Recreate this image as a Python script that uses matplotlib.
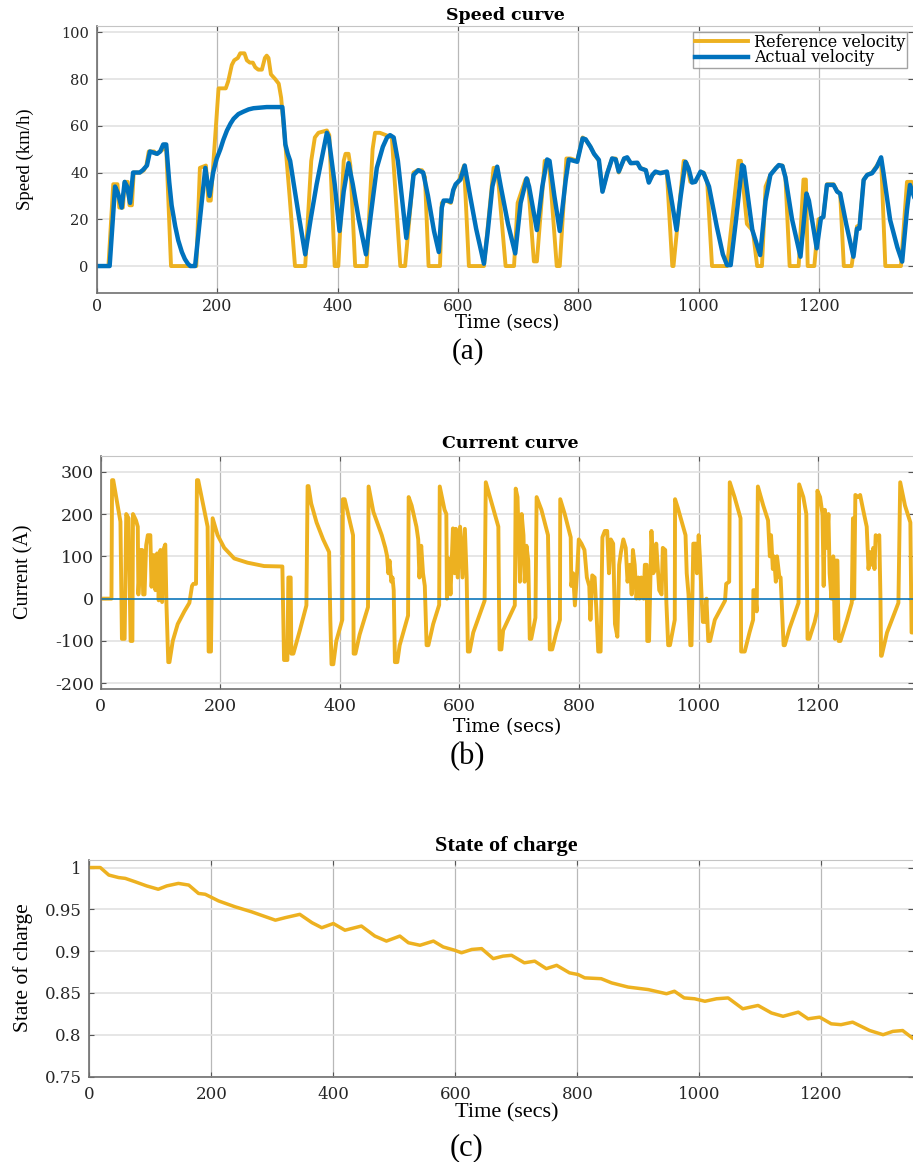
import matplotlib
matplotlib.use('Agg')
import matplotlib.pyplot as plt

# plain hyphen for negative ticks, like the original
plt.rcParams['axes.unicode_minus'] = False

# figure size in pixels (dpi 100)
W, H = 913, 1162

ORANGE = '#EDB120'
BLUE = '#0072BD'

# ---- (a) speed curve: reference and actual velocity (km/h) ----
ref_t = [0, 19, 27, 34, 37, 43, 46, 51, 54, 58, 61, 72, 78, 82, 86, 95, 98, 105, 110, 113,
         115, 123, 165, 171, 181, 185, 189, 202, 214, 218, 224, 228, 234, 238, 245, 249, 254,
         259, 263, 268, 274, 279, 282, 285, 289, 296, 302, 306, 313, 320, 329, 346, 356, 362,
         368, 382, 386, 395, 401, 410, 413, 418, 421, 429, 448, 458, 462, 470, 480, 490, 504,
         512, 526, 533, 540, 545, 551, 570, 573, 580, 588, 593, 602, 610, 618, 643, 659, 665,
         679, 693, 699, 712, 716, 726, 731, 744, 751, 764, 769, 780, 787, 798, 807, 812, 820,
         826, 834, 840, 848, 856, 862, 867, 876, 881, 887, 898, 903, 912, 917, 923, 928, 936,
         947, 956, 958, 975, 980, 986, 994, 1003, 1008, 1014, 1022, 1047, 1066, 1070, 1080,
         1090, 1097, 1105, 1111, 1119, 1128, 1133, 1139, 1144, 1151, 1166, 1174, 1178, 1181,
         1192, 1199, 1207, 1213, 1224, 1230, 1235, 1241, 1254, 1263, 1267, 1274, 1280, 1288,
         1296, 1303, 1310, 1336, 1346, 1354, 1360]
ref_v = [0, 0, 35, 35, 25, 25, 36, 36, 26, 26, 40, 40, 41, 43, 49, 49, 48, 49, 50, 52,
         51, 0, 0, 42, 43, 28, 28, 76, 76, 79, 86, 88, 89, 91, 91, 88, 87,
         87, 85, 84, 84, 89, 90, 89, 82, 80, 78, 72, 52, 30, 0, 0, 45, 55,
         57, 58, 56, 0, 0, 45, 48, 48, 43, 0, 0, 50, 57, 57, 56, 55, 0,
         0, 40, 41, 41, 38, 0, 0, 27, 28, 27, 33, 37, 43, 0, 0, 42, 42,
         0, 0, 27, 37, 37, 2, 2, 45, 45, 0, 0, 46, 46, 45, 55, 54, 51,
         48, 45, 32, 40, 46, 46, 40, 46, 46, 44, 44, 42, 41, 36, 39, 40, 40,
         40, 0, 0, 45, 44, 36, 36, 40, 40, 36, 0, 0, 45, 45, 18,
         15, 0, 0, 34, 39, 42, 43, 43, 38, 0, 0, 37, 37, 0,
         0, 20, 21, 35, 35, 32, 31, 0, 0, 17, 17, 37, 39, 40,
         43, 46, 0, 0, 36, 36, 28]

act_t = [0, 21, 30, 35, 41, 46, 50, 55, 60, 71, 76, 83, 88, 100, 105, 110, 115, 120, 124,
         130, 135, 141, 146, 151, 155, 163, 171, 180, 187, 193, 199, 205, 210, 216, 222, 227,
         235, 243, 252, 260, 282, 308, 310, 313, 317, 321, 327, 335, 346, 355, 365, 375, 382,
         385, 395, 403, 410, 418, 425, 435, 447, 455, 465, 475, 482, 487, 493, 500, 514, 520,
         526, 534, 542, 550, 560, 568, 573, 576, 583, 588, 592, 596, 604, 611, 620, 630, 643,
         649, 657, 665, 671, 683, 695, 704, 714, 718, 731, 740, 748, 752, 760, 769, 779, 784,
         798, 807, 812, 820, 826, 834, 840, 848, 856, 862, 867, 876, 881, 887, 898, 903, 912,
         917, 923, 928, 936, 947, 955, 963, 970, 978, 983, 989, 994, 1003, 1008, 1017, 1030,
         1040, 1047, 1053, 1062, 1072, 1075, 1089, 1102, 1111, 1119, 1128, 1133, 1139, 1144,
         1155, 1169, 1179, 1183, 1196, 1203, 1207, 1213, 1224, 1230, 1235, 1245, 1257, 1263,
         1267, 1274, 1280, 1288, 1296, 1303, 1307, 1318, 1330, 1338, 1346, 1351, 1360]
act_v = [0, 0, 34, 31, 25, 36, 34, 27, 40, 40, 41, 43, 49, 48, 49, 52, 52, 36, 26,
         17, 11, 6, 3, 1, 0, 0, 20, 42, 30, 40, 46, 50, 54, 58, 61, 63,
         65, 66, 67, 67.5, 68, 68, 62, 52, 48, 45, 35, 22, 5, 20, 35, 48, 57,
         55, 35, 15, 32, 44, 35, 20, 5, 22, 42, 51, 55, 56, 55, 45, 12, 25,
         39, 41, 40, 30, 15, 6, 25, 28, 28, 27.5, 32.5, 35, 37, 43, 30, 16, 1,
         14, 34, 42.5, 34, 18, 5.4, 27, 37.5, 34, 15.4, 34, 45.6, 45, 30, 15, 37, 45.6,
         44.6, 54.6, 54.2, 51, 48, 45.4, 31.8, 39.7, 46, 45.6, 40.4, 46, 46.5, 44, 44.2, 41.8, 41,
         35.7, 39, 40.4, 39.7, 40.4, 28, 15.4, 30, 44.6, 41.8, 35.7, 36, 40.4, 39.7, 34, 16.8,
         5, 0.4, 0.4, 20, 43.2, 42.5, 15.4, 4.7, 28, 39, 41.8, 43.2, 42.8, 38,
         20, 4, 31, 28, 7.6, 20.4, 21, 34.7, 34.7, 31.8, 31, 18, 4, 16,
         16, 36.8, 39, 39.7, 42.5, 46.5, 39.7, 19.7, 8, 1.9, 24, 34.7, 28]

speed_yticks = [0, 20, 40, 60, 80, 100]

# ---- (b) current curve (A) ----
cur_t = [0, 18, 19, 21, 33, 35.5, 40, 42.7, 46.6, 50, 53, 54, 59, 62, 63, 66.6, 69.4, 71,
         73.3, 76, 78.8, 83, 85, 88.8, 91.6, 94.4, 97, 100, 102.7, 105.5, 108, 110, 113, 115,
         120.5, 128.8, 139.9, 148.3, 152.7, 155, 159.4, 161, 163, 178.8, 180.5, 184.4, 187.2,
         195.5, 206.6, 223.3, 245.5, 273.3, 303.8, 306.6, 312.2, 313.8, 317.7, 318.8, 322.2,
         333, 344, 346, 347.5, 352, 361, 372, 382, 384, 386, 389, 394, 404, 405, 408, 417,
         422, 423, 426, 433, 447, 448, 456, 470, 476, 479, 481, 483, 486, 488, 490, 492, 496,
         500, 514, 515, 520, 528, 531, 533, 536, 539, 542, 545, 548, 556, 566, 567, 575, 578,
         579, 582, 585, 589, 592, 594, 597, 601, 605, 609, 612, 614, 617, 623, 642, 644, 653,
         665, 666, 667, 670, 673, 692.5, 694, 697, 701, 704, 707, 709, 712, 715, 717.5, 720,
         727, 729, 737, 748, 751, 755, 762, 768, 768.5, 776, 786, 787, 790, 793, 797, 799.5,
         804, 809, 813, 817, 819, 822, 826, 829, 832, 836, 839, 843, 847, 850, 853, 857, 860,
         864, 867, 870, 874, 878, 881, 885, 888, 890, 893, 896, 899, 901, 904, 908, 910, 913,
         914, 917, 921, 924, 927, 929, 934, 938, 940, 944, 946, 949, 952, 960, 960.5, 965,
         978, 980, 983, 986, 988, 991, 995, 997, 1000, 1002, 1005, 1007, 1010, 1013, 1016,
         1019, 1027, 1044, 1046, 1051, 1052, 1060, 1070, 1071, 1077, 1085, 1091, 1091.5, 1094,
         1097, 1099, 1108, 1116, 1119, 1121, 1124, 1126, 1129, 1131, 1135, 1137, 1142, 1144,
         1152, 1167, 1168, 1175, 1180, 1182, 1185, 1194, 1198, 1198.5, 1203, 1207, 1209, 1211,
         1214, 1217, 1219, 1222, 1225, 1228, 1229.5, 1232, 1234, 1237, 1248, 1256, 1258, 1260,
         1262, 1267, 1270, 1275, 1281, 1284, 1287, 1290, 1292, 1294, 1296, 1299, 1302, 1304,
         1305, 1306, 1315, 1334, 1337, 1345, 1354, 1356, 1358]
cur_i = [0, 0, 280, 280, 182, -95, -95, 200, 190, -100, -100, 200, 185, 170, 10, 115, 115, 10,
         10, 126, 150, 150, 28, 103, 20, 107, -4, 115, -8, 118, 128, -16, -150, -150,
         -100, -60, -30, -10, 30, 35, 35, 280, 280, 170, -125, -125, 190,
         150, 120, 95, 85, 77, 76, -145, -145, 50, 50, -130, -130,
         -75, -16, 266, 266, 225, 180, 140, 110, -50, -155, -155, -100, -50, 235, 235, 180,
         150, -130, -130, -85, -20, 265, 205, 150, 120, 100, 60, 90, 40, 50, 20, -150, -150,
         -110, -40, 240, 220, 170, 140, 50, 125, 60, 30, -110, -110, -60, -15, 265, 210, 200,
         0, 95, 10, 166, 60, 165, 50, 170, 50, 165, 50, -125, -125, -80, -5, 275, 230,
         170, 0, -120, -120, -75, -16, 260, 240, 40, 200, 150, 40, 125, 90, -95, -95,
         -45, 240, 210, 150, -120, -120, -80, -50, 235, 200, 145, 30, 60, -16, 70, 140,
         130, 115, 50, 30, -50, 55, 50, -30, -125, -125, 145, 160, 160, 60, 140, 130, -60,
         -90, 80, 110, 140, 120, 40, 80, 10, 115, 80, 0, 50, 0, 50, 0, 80, 80,
         -100, -100, 160, 60, 70, 130, 20, 10, 120, 115, -10, -110, -110, -50, 235, 215,
         150, 60, 10, -110, -110, 130, 130, 60, 150, 100, 0, -55, -55, 0, -100,
         -100, -50, -5, 35, 40, 275, 240, 190, -125, -125, -80, -50, 20, 20,
         -30, 265, 220, 185, 100, 150, 70, 100, 40, 100, 50, 50, -110, -110,
         -70, -10, 270, 240, 200, -95, -95, -55, -30, 255, 240, 200, 30, 210,
         120, 200, 60, 0, 100, -95, 90, 90, -100, -100, -50, -10, 190, 0,
         245, 240, 245, 210, 170, 70, 110, 80, 120, 70, 150, 140, 150, 0,
         -135, -135, -80, -10, 275, 220, 180, -80, -80]

# second series of panel (b), flat at zero
zero_t = [0, 1360]
zero_i = [0, 0]

current_yticks = [-200, -100, 0, 100, 200, 300]

# ---- (c) state of charge ----
soc_t = [0, 18, 32, 48, 59, 75, 94, 113, 127, 146, 163, 179, 190, 212, 239, 266, 305, 321,
         345, 365, 381, 400, 419, 446, 468, 487, 509, 523, 542, 564, 580, 599, 610, 627, 643,
         662, 678, 692, 713, 730, 749, 766, 787, 801, 812, 839, 856, 883, 916, 946, 959, 975,
         992, 1009, 1028, 1047, 1071, 1096, 1118, 1137, 1162, 1178, 1197, 1216, 1232, 1251,
         1279, 1301, 1317, 1333, 1349, 1352]
soc = [1.0, 1.0, 0.991, 0.988, 0.987, 0.983, 0.978, 0.974, 0.978, 0.981, 0.979, 0.969, 0.968,
       0.96, 0.953, 0.947, 0.937, 0.94, 0.944, 0.934, 0.928, 0.933, 0.925, 0.93, 0.918, 0.912,
       0.918, 0.91, 0.907, 0.912, 0.905, 0.901, 0.898, 0.902, 0.903, 0.891, 0.894, 0.895,
       0.886, 0.888, 0.879, 0.883, 0.874, 0.872, 0.868, 0.867, 0.862, 0.857, 0.854, 0.849,
       0.852, 0.844, 0.843, 0.84, 0.843, 0.844, 0.831, 0.835, 0.826, 0.822, 0.827, 0.819,
       0.821, 0.813, 0.812, 0.815, 0.805, 0.8, 0.804, 0.805, 0.796, 0.795]

soc_yticks = [0.75, 0.8, 0.85, 0.9, 0.95, 1.0]
soc_ylabels = ['0.75', '0.8', '0.85', '0.9', '0.95', '1']

time_ticks = [0, 200, 400, 600, 800, 1000, 1200]

WIDE = 'DejaVu Serif'
TIMES = 'Liberation Serif'


def px_box(left, top, right, bottom):
    # pixel box -> figure fraction [l, b, w, h]
    return [left / W, 1 - bottom / H, (right - left) / W, (bottom - top) / H]


def fig_text(fig, x, y, s, **kw):
    fig.text(x / W, 1 - y / H, s, ha='center', va='center', **kw)


def style_axes(ax, ysize, xsize, ypad, xpad):
    ax.xaxis.grid(True, color='#b8b8b8', lw=0.9)
    ax.yaxis.grid(True, color='#e2e2e2', lw=1.2)
    ax.set_axisbelow(True)
    for side in ['left', 'bottom']:
        ax.spines[side].set_color('#707070')
        ax.spines[side].set_linewidth(1.2)
    ax.spines['top'].set_color('#c4c4c4')
    ax.spines['right'].set_visible(False)
    ax.tick_params(direction='in', length=3.5, width=0.8, color='#555555',
                   top=True, right=True)
    ax.tick_params(axis='y', labelsize=ysize, pad=ypad)
    ax.tick_params(axis='x', labelsize=xsize, pad=xpad)
    for lab in ax.get_xticklabels() + ax.get_yticklabels():
        lab.set_family(WIDE)
        lab.set_color('#262626')


fig = plt.figure(figsize=(W / 100, H / 100), dpi=100)

# (a) speed
ax1 = fig.add_axes(px_box(97, 25.7, 913, 292.7))
ax1.plot(ref_t, ref_v, color=ORANGE, lw=2.8, label='Reference velocity')
ax1.plot(act_t, act_v, color=BLUE, lw=3.2, label='Actual velocity')
ax1.set_xlim(0, 1356)
ax1.set_ylim(-11.4, 102.8)
ax1.set_xticks(time_ticks)
ax1.set_yticks(speed_yticks)
style_axes(ax1, 10.5, 11.5, 6, 4)
leg = ax1.legend(loc='upper right', bbox_to_anchor=(907 / W, 1 - 32.3 / H),
                 bbox_transform=fig.transFigure, prop={'family': WIDE, 'size': 11.5},
                 frameon=True, fancybox=False, edgecolor='#8c8c8c', borderpad=0.1,
                 labelspacing=-0.1, handlelength=3.3, handletextpad=0.4, borderaxespad=0)
leg.get_frame().set_linewidth(1.0)
fig_text(fig, 505, 15, 'Speed curve', family=WIDE, weight='bold', size=12.5)
fig_text(fig, 25, 159, 'Speed (km/h)', family=TIMES, size=13.5, rotation=90)
fig_text(fig, 507, 323, 'Time (secs)', family=WIDE, size=13)
fig_text(fig, 468, 352, '(a)', family=TIMES, size=21)

# (b) current
ax2 = fig.add_axes(px_box(100.7, 455.7, 913, 689.3))
ax2.plot(cur_t, cur_i, color=ORANGE, lw=2.8)
ax2.plot(zero_t, zero_i, color=BLUE, lw=1.1)
ax2.set_xlim(0, 1358.4)
ax2.set_ylim(-214.2, 337.8)
ax2.set_xticks(time_ticks)
ax2.set_yticks(current_yticks)
style_axes(ax2, 12.5, 12.5, 5, 6)
fig_text(fig, 510, 444, 'Current curve', family=WIDE, weight='bold', size=12.5)
fig_text(fig, 24, 572, 'Current (A)', family=TIMES, size=14.5, rotation=90)
fig_text(fig, 507, 727, 'Time (secs)', family=WIDE, size=13.5)
fig_text(fig, 467, 757, '(b)', family=TIMES, size=22)

# (c) state of charge
ax3 = fig.add_axes(px_box(89.3, 859.5, 913, 1076.5))
ax3.plot(soc_t, soc, color=ORANGE, lw=2.5)
ax3.set_xlim(0, 1350)
ax3.set_ylim(0.75, 1.0096)
ax3.set_xticks(time_ticks)
ax3.set_yticks(soc_yticks)
ax3.set_yticklabels(soc_ylabels)
style_axes(ax3, 12, 12, 5.5, 7)
fig_text(fig, 506, 846, 'State of charge', family=TIMES, weight='bold', size=16)
fig_text(fig, 23, 968, 'State of charge', family=TIMES, size=15.5, rotation=90)
fig_text(fig, 507, 1113, 'Time (secs)', family=TIMES, size=16)
fig_text(fig, 466, 1148, '(c)', family=TIMES, size=22)

fig.savefig('out.png', dpi=100)
